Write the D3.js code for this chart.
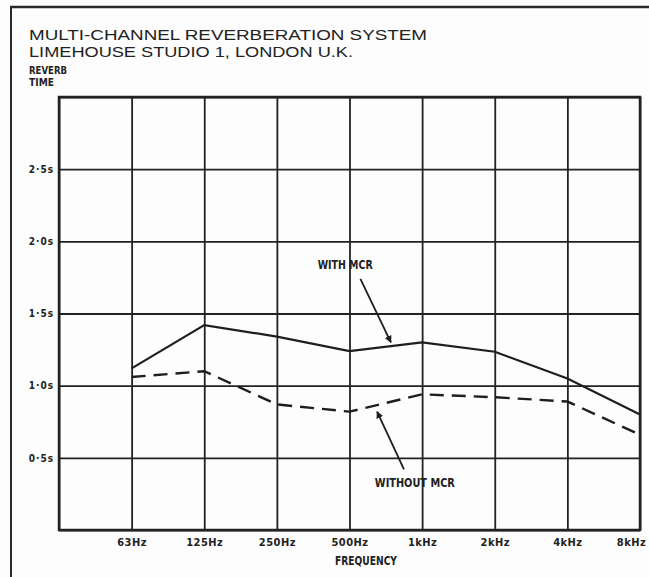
<!DOCTYPE html>
<html>
<head>
<meta charset="utf-8">
<script src="https://cdn.jsdelivr.net/npm/d3@7"></script>
<style>
  body { margin: 0; background: #fdfdfd; }
  svg { display: block; }
  .lbl { font-family: "DejaVu Sans Condensed", "Liberation Sans Narrow", "DejaVu Sans", sans-serif; font-weight: bold; font-stretch: condensed; fill: #222; }
  .title { font-family: "Liberation Sans", "DejaVu Sans", sans-serif; fill: #222; }
</style>
</head>
<body>
<svg id="canvas"></svg>
<script>
// chart data
let freqs = ["", "63Hz", "125Hz", "250Hz", "500Hz", "1kHz", "2kHz", "4kHz", "8kHz"];
let bands = ["63Hz", "125Hz", "250Hz", "500Hz", "1kHz", "2kHz", "4kHz", "8kHz"];
let withMCR = [1.12, 1.42, 1.34, 1.24, 1.30, 1.235, 1.05, 0.80];
let withoutMCR = [1.06, 1.10, 0.87, 0.82, 0.94, 0.92, 0.89, 0.66];
let yTicks = [0, 0.5, 1.0, 1.5, 2.0, 2.5, 3.0];
let yTickLabels = ["", "0·5s", "1·0s", "1·5s", "2·0s", "2·5s", ""];

let width = 649;
let height = 577;
let plotLeft = 59, plotRight = 640, plotTop = 97, plotBottom = 530;

let canvas = d3.select('#canvas')
canvas.attr('width', width).attr('height', height)

let xScale = d3.scalePoint().domain(freqs).range([plotLeft, plotRight])
// fractional band position, for the annotations
let xIdx = d3.scaleLinear().domain([0, freqs.length - 1]).range([plotLeft, plotRight])
let yScale = d3.scaleLinear().domain([0, 3]).range([plotBottom, plotTop])

// page frame
canvas.append('line').attr('x1', 10).attr('x2', 649).attr('y1', 7).attr('y2', 7)
  .attr('stroke', '#2a2a2a').attr('stroke-width', 2.5)
canvas.append('line').attr('x1', 11).attr('x2', 11).attr('y1', 6).attr('y2', 577)
  .attr('stroke', '#2a2a2a').attr('stroke-width', 2)

// titles
canvas.append('text').attr('class', 'title').attr('x', 29).attr('y', 40)
  .attr('font-size', 14.5).attr('textLength', 398).attr('lengthAdjust', 'spacingAndGlyphs')
  .text('MULTI-CHANNEL REVERBERATION SYSTEM')
canvas.append('text').attr('class', 'title').attr('x', 29).attr('y', 57)
  .attr('font-size', 14.5).attr('textLength', 324).attr('lengthAdjust', 'spacingAndGlyphs')
  .text('LIMEHOUSE STUDIO 1, LONDON U.K.')

canvas.append('text').attr('class', 'lbl').attr('x', 29).attr('y', 74)
  .attr('font-size', 10).attr('textLength', 38).attr('lengthAdjust', 'spacingAndGlyphs').text('REVERB')
canvas.append('text').attr('class', 'lbl').attr('x', 29).attr('y', 86)
  .attr('font-size', 10).attr('textLength', 25).attr('lengthAdjust', 'spacingAndGlyphs').text('TIME')

// grid + tick labels from the axes
let xAxis = d3.axisBottom(xScale).tickSize(-(plotBottom - plotTop)).tickPadding(8)
let gx = canvas.append('g').attr('transform', `translate(0,${plotBottom})`).call(xAxis)
gx.select('.domain').remove()
gx.selectAll('.tick line').attr('stroke', '#222').attr('stroke-width', 1.8)
gx.selectAll('.tick text').attr('class', 'lbl').attr('font-size', 11).attr('fill', '#222')
  .attr('letter-spacing', 0.5)
  .attr('dx', d => d === "8kHz" ? -9 : 0)

let yAxis = d3.axisLeft(yScale).tickValues(yTicks).tickSize(-(plotRight - plotLeft)).tickPadding(5)
  .tickFormat((d, i) => yTickLabels[i])
let gy = canvas.append('g').attr('transform', `translate(${plotLeft},0)`).call(yAxis)
gy.select('.domain').remove()
gy.selectAll('.tick line').attr('stroke', '#222').attr('stroke-width', 1.8)
gy.selectAll('.tick text').attr('class', 'lbl').attr('font-size', 10).attr('fill', '#222')
  .attr('letter-spacing', 1)

// plot border
canvas.append('rect').attr('x', plotLeft).attr('y', plotTop)
  .attr('width', plotRight - plotLeft).attr('height', plotBottom - plotTop)
  .attr('fill', 'none').attr('stroke', '#222').attr('stroke-width', 2.5)

canvas.append('text').attr('class', 'lbl').attr('x', 366).attr('y', 565)
  .attr('text-anchor', 'middle').attr('font-size', 12)
  .attr('textLength', 62).attr('lengthAdjust', 'spacingAndGlyphs').text('FREQUENCY')

// the two curves
let line = d3.line().x((d, i) => xScale(bands[i])).y(d => yScale(d))
canvas.append('path').datum(withMCR).attr('d', line)
  .attr('fill', 'none').attr('stroke', '#1e1e1e').attr('stroke-width', 2.2)
canvas.append('path').datum(withoutMCR).attr('d', line)
  .attr('fill', 'none').attr('stroke', '#1e1e1e').attr('stroke-width', 2.4)
  .attr('stroke-dasharray', '14,8')

// annotations, in band index / seconds
let notes = [
  { text: 'WITH MCR', tx: 3.94, ty: 1.81, len: 55, from: [4.15, 1.74], to: [4.57, 1.30] },
  { text: 'WITHOUT MCR', tx: 4.90, ty: 0.30, len: 80, from: [4.75, 0.42], to: [4.38, 0.82] }
]
canvas.append('defs').append('marker').attr('id', 'head')
  .attr('viewBox', '0 0 10 10').attr('refX', 9).attr('refY', 5)
  .attr('markerWidth', 4).attr('markerHeight', 4).attr('orient', 'auto')
  .append('path').attr('d', 'M0,0 L10,5 L0,10 z').attr('fill', '#1e1e1e')

notes.forEach(n => {
  canvas.append('text').attr('class', 'lbl').attr('x', xIdx(n.tx)).attr('y', yScale(n.ty))
    .attr('text-anchor', 'middle').attr('font-size', 12)
    .attr('textLength', n.len).attr('lengthAdjust', 'spacingAndGlyphs').text(n.text)
  canvas.append('line')
    .attr('x1', xIdx(n.from[0])).attr('y1', yScale(n.from[1]))
    .attr('x2', xIdx(n.to[0])).attr('y2', yScale(n.to[1]))
    .attr('stroke', '#1e1e1e').attr('stroke-width', 1.8).attr('marker-end', 'url(#head)')
})
</script>
</body>
</html>
